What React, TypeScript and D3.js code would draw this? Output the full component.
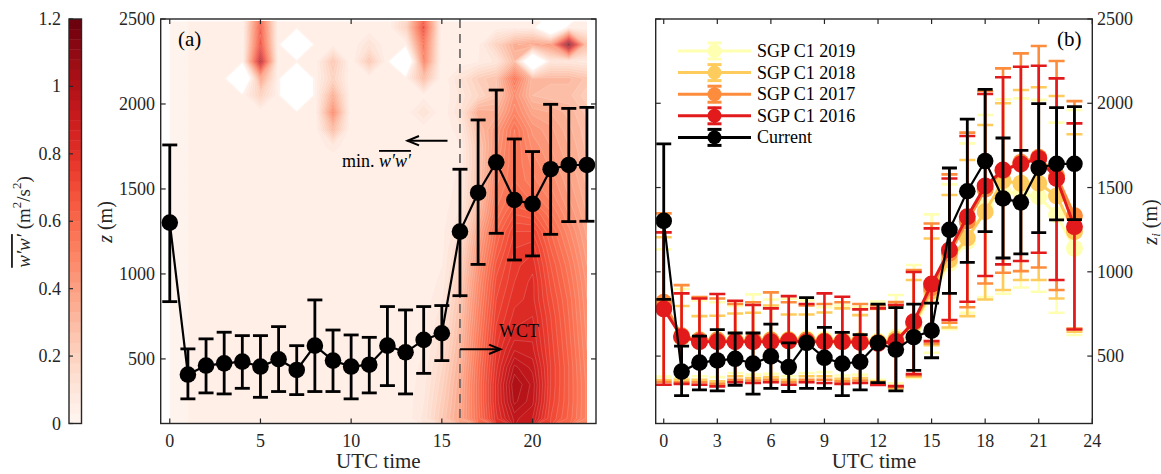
import React from 'react';
import * as d3 from 'd3';

// ---------------- DATA ----------------
const HOURS = [0,1,2,3,4,5,6,7,8,9,10,11,12,13,14,15,16,17,18,19,20,21,22,23];

// Current (black) mixing-layer height z_i and error bounds (m)
const CUR_MEAN = [1302,408,461,474,484,455,498,435,578,490,455,466,578,539,612,651,1249,1478,1657,1435,1412,1616,1641,1641];
const CUR_HI   = [1759,559,618,657,637,637,690,578,847,670,641,627,808,788,808,814,1616,1906,2082,1794,1720,1998,1974,1980];
const CUR_LO   = [837,265,300,294,327,274,308,290,308,308,265,300,343,294,415,490,872,1056,1239,1082,1106,1233,1308,1310];

// SGP C1 climatology per year
const SGP2016_MEAN = [780,615,585,585,585,585,585,590,585,585,585,580,575,585,704,927,1129,1327,1509,1604,1640,1673,1554,1268];
const SGP2016_HI   = [1234,872,842,868,828,803,783,856,809,872,852,777,783,803,999,1258,1554,1806,2055,2154,2217,2223,2148,1881];
const SGP2016_LO   = [330,335,330,320,345,340,345,330,345,340,335,340,328,322,393,589,714,822,975,1044,1064,1113,951,658];

const SGP2017_MEAN = [820,620,595,595,590,595,595,595,595,590,590,590,580,590,700,905,1110,1300,1490,1600,1650,1680,1570,1333];
const SGP2017_HI   = [1347,921,850,842,810,819,878,819,800,809,819,809,800,820,1010,1287,1578,1826,2073,2207,2296,2340,2251,2013];
const SGP2017_LO   = [346,345,345,335,360,355,360,345,360,360,350,355,340,315,385,575,698,790,931,994,1004,1026,892,664];

const SGP2018_MEAN = [800,610,590,590,590,590,590,590,595,590,585,585,580,600,690,885,1070,1200,1357,1540,1525,1525,1450,1238];
const SGP2018_HI   = [1205,797,737,739,753,757,800,747,747,759,783,743,780,790,951,1198,1456,1663,1871,2000,2079,2095,2043,1816];
const SGP2018_LO   = [358,360,360,350,380,370,375,360,380,380,365,370,350,308,377,565,670,737,836,892,951,951,842,644];

const SGP2019_MEAN = [790,615,600,600,600,600,600,600,605,600,595,595,590,615,675,860,1050,1180,1386,1475,1465,1446,1337,1139];
const SGP2019_HI   = [1133,898,830,819,797,866,836,840,830,790,800,790,823,862,1040,1341,1519,1762,1930,2023,2029,2020,1885,1960];
const SGP2019_LO   = [378,370,380,375,400,390,395,380,400,405,385,390,360,338,370,520,660,757,850,870,907,882,757,625];

const LEGEND_LABELS = ['SGP C1 2019','SGP C1 2018','SGP C1 2017','SGP C1 2016','Current'];
const SERIES_COLORS = ['#ffffb2','#fecc5c','#fd8d3c','#e31a1c','#000000'];

// w'w' field (m^2/s^2): rows = heights (ascending), cols = hours 0..23; null = missing
const GRID_HEIGHTS = [150,250,350,450,550,650,750,850,950,1050,1150,1250,1350,1450,1550,1650,1750,1850,1950,2050,2150,2250,2350,2450,2550];
const WW_GRID: (number | null)[][] = [
  [.02,.03,.03,.035,.03,.035,.03,.03,.035,.03,.03,.035,.03,.04,.10,.24,.38,.58,.80,.94,.90,.72,.62,.50],
  [.02,.03,.03,.035,.03,.035,.03,.03,.035,.03,.03,.035,.03,.04,.09,.22,.37,.59,.82,1.0,.94,.74,.63,.50],
  [.02,.03,.03,.035,.03,.035,.03,.03,.035,.03,.03,.035,.03,.04,.08,.20,.36,.59,.82,1.02,.95,.75,.63,.50],
  [.02,.03,.03,.035,.03,.035,.03,.03,.035,.03,.03,.035,.03,.04,.07,.18,.34,.58,.80,.97,.92,.75,.63,.49],
  [.02,.03,.03,.035,.03,.035,.03,.03,.035,.03,.03,.035,.03,.04,.06,.15,.32,.56,.78,.90,.88,.74,.62,.48],
  [.02,.03,.03,.035,.03,.035,.03,.03,.035,.03,.03,.035,.03,.04,.05,.13,.30,.54,.76,.85,.86,.73,.61,.47],
  [.02,.03,.03,.035,.03,.035,.03,.03,.035,.03,.03,.035,.03,.04,.05,.11,.28,.52,.74,.82,.84,.72,.60,.46],
  [.02,.03,.03,.035,.03,.035,.03,.03,.035,.03,.03,.035,.03,.04,.04,.09,.26,.50,.72,.80,.82,.70,.59,.45],
  [.02,.03,.03,.035,.03,.035,.03,.03,.035,.03,.03,.035,.03,.04,.04,.07,.23,.48,.70,.78,.82,.68,.57,.44],
  [.02,.03,.03,.035,.03,.035,.03,.03,.035,.03,.03,.035,.03,.04,.04,.06,.20,.45,.67,.77,.80,.66,.55,.42],
  [.02,.03,.03,.035,.03,.035,.03,.03,.035,.03,.03,.035,.03,.04,.035,.05,.17,.42,.63,.75,.77,.63,.52,.40],
  [.02,.03,.03,.035,.03,.035,.03,.03,.035,.03,.03,.035,.03,.04,.035,.05,.13,.38,.60,.72,.72,.60,.49,.38],
  [.02,.03,.03,.035,.03,.035,.03,.03,.035,.03,.03,.035,.03,.04,.03,.045,.10,.32,.55,.66,.64,.55,.45,.36],
  [.02,.03,.03,.035,.03,.035,.03,.03,.035,.03,.03,.035,.03,.04,.03,.04,.08,.28,.52,.60,.56,.50,.42,.34],
  [.02,.03,.03,.035,.03,.035,.03,.03,.035,.03,.03,.035,.03,.04,.03,.04,.07,.26,.50,.57,.52,.47,.40,.32],
  [.02,.03,.03,.035,.03,.035,.03,.03,.035,.03,.03,.035,.03,.04,.03,.04,.06,.25,.47,.57,.50,.44,.38,.30],
  [.02,.03,.03,.035,.03,.035,.03,.03,.035,.08,.03,.035,.03,.04,.03,.04,.06,.25,.44,.58,.47,.42,.36,.29],
  [.02,.03,.03,.035,.03,.035,.03,.03,.035,.30,.03,.035,.03,.04,.04,.035,.08,.29,.42,.57,.44,.40,.34,.28],
  [.02,.03,.03,.035,.03,.035,.03,.03,.035,.50,.03,.035,.03,.04,.12,.035,.12,.36,.34,.50,.38,.36,.32,.26],
  [.02,.03,.03,.035,.03,.20,.03,null,.035,.35,.03,.035,.03,.04,.05,.03,.10,.18,.26,.46,.30,.28,.28,.22],
  [.02,.03,.03,.035,null,.40,.03,null,.035,.20,.03,.035,.03,.04,.30,.03,.12,.22,.27,.56,.31,.31,.31,.26],
  [.02,.03,.03,.035,.03,1.0,.03,.03,.035,.25,.03,.25,.03,null,.55,.03,.04,.06,.10,.30,null,.10,.10,.08],
  [.02,.03,.03,.035,.03,.75,.03,null,.035,.05,.03,.12,.03,.04,.60,.03,.03,.05,.20,.35,.40,.45,1.2,.30],
  [.02,.03,.03,.035,.03,.70,.03,.03,.035,.03,.03,.035,.03,.20,.75,.03,.03,.04,.05,.06,.06,null,.06,.04],
  [.02,.03,.10,.035,.03,.60,.03,.03,.035,.03,.03,.035,.03,.15,.60,.03,.03,.03,.03,.04,.04,.04,null,.03],
];

const A_XTICKS = [0,5,10,15,20];
const B_XTICKS = [0,3,6,9,12,15,18,21,24];
const Y_TICKS = [500,1000,1500,2000,2500];
const C_TICKS = [0,0.2,0.4,0.6,0.8,1,1.2];

// ---------------- LAYOUT ----------------
const W = 1161, H = 474;
const FONT = "'Liberation Serif', 'Times New Roman', serif";
const INK = '#262626';
const PA = { l: 160.7, r: 596, t: 19, b: 423.5 };
const PB = { l: 655.7, r: 1092.3, t: 19, b: 423.5 };
const CB = { l: 69, r: 81.5, t: 19, b: 423.5 };

export default function App() {
  const xA = d3.scaleLinear().domain([-0.5, 23.5]).range([PA.l, PA.r]);
  const yA = d3.scaleLinear().domain([120, 2500]).range([PA.b, PA.t]);
  const xB = d3.scaleLinear().domain([-0.45, 24]).range([PB.l, PB.r]);
  const yB = d3.scaleLinear().domain([100, 2500]).range([PB.b, PB.t]);
  const yC = d3.scaleLinear().domain([0, 1.2]).range([CB.b, CB.t]);

  const step = 0.03;
  const nLev = 40;
  const color = (v: number) => d3.interpolateReds(Math.min(1, v / 1.2));

  // contours
  const n = HOURS.length, m = GRID_HEIGHTS.length;
  const dh = GRID_HEIGHTS[1] - GRID_HEIGHTS[0];
  const vals: number[] = new Array(n * m);
  for (let j = 0; j < m; j++) for (let i = 0; i < n; i++) {
    const v = WW_GRID[j][i];
    vals[j * n + i] = v == null ? -0.3 : v;
  }
  const thresholds = d3.range(0, nLev).map(k => k * step);
  const cont = d3.contours().size([n, m]).thresholds(thresholds)(vals);
  const proj = d3.geoTransform({
    point(x: number, y: number) {
      (this as any).stream.point(xA(HOURS[0] + x - 0.5), yA(GRID_HEIGHTS[0] + (y - 0.5) * dh));
    },
  });
  const gp = d3.geoPath(proj as any);

  const series = [
    { mean: SGP2019_MEAN, hi: SGP2019_HI, lo: SGP2019_LO, c: SERIES_COLORS[0] },
    { mean: SGP2018_MEAN, hi: SGP2018_HI, lo: SGP2018_LO, c: SERIES_COLORS[1] },
    { mean: SGP2017_MEAN, hi: SGP2017_HI, lo: SGP2017_LO, c: SERIES_COLORS[2] },
    { mean: SGP2016_MEAN, hi: SGP2016_HI, lo: SGP2016_LO, c: SERIES_COLORS[3] },
  ];

  const errSeries = (x: any, y: any, mean: number[], hi: number[], lo: number[], c: string, key: string,
                     lw: number, capW: number, r: number, lineW: number) => {
    const line = d3.line<number>().x((_, i) => x(HOURS[i])).y(d => y(d));
    return (
      <g key={key}>
        {HOURS.map((h, i) => (
          <g key={i} stroke={c} strokeWidth={lw}>
            <line x1={x(h)} x2={x(h)} y1={y(lo[i])} y2={y(hi[i])} />
            <line x1={x(h) - capW} x2={x(h) + capW} y1={y(lo[i])} y2={y(lo[i])} />
            <line x1={x(h) - capW} x2={x(h) + capW} y1={y(hi[i])} y2={y(hi[i])} />
          </g>
        ))}
        <path d={line(mean) || ''} fill="none" stroke={c} strokeWidth={lineW} />
        {HOURS.map((h, i) => (
          <circle key={'c' + i} cx={x(h)} cy={y(mean[i])} r={r} fill={c} />
        ))}
      </g>
    );
  };

  const frame = (p: any) => (
    <rect x={p.l} y={p.t} width={p.r - p.l} height={p.b - p.t} fill="none" stroke={INK} strokeWidth={1.4} />
  );

  const tickLen = 5;

  return (
    <svg width={W} height={H} style={{ position: 'absolute', left: 0, top: 0, background: '#fff' }}
         fontFamily={FONT} fill={INK}>
      <defs>
        <clipPath id="heatclip">
          <rect x={xA(0)} y={yA(2485)} width={xA(23) - xA(0)} height={yA(120) - yA(2485)} />
        </clipPath>
        <clipPath id="bclip">
          <rect x={PB.l} y={PB.t} width={PB.r - PB.l} height={PB.b - PB.t} />
        </clipPath>
      </defs>

      {/* ---------- colorbar ---------- */}
      {d3.range(nLev).map(k => (
        <rect key={k} x={CB.l} y={yC((k + 1) * step)} width={CB.r - CB.l}
              height={yC(k * step) - yC((k + 1) * step) + 0.4} fill={color((k + 0.5) * step)} />
      ))}
      <rect x={CB.l} y={CB.t} width={CB.r - CB.l} height={CB.b - CB.t} fill="none" stroke={INK} strokeWidth={1.4} />
      {C_TICKS.map(t => (
        <g key={t}>
          <line x1={CB.l} x2={CB.l + 4} y1={yC(t)} y2={yC(t)} stroke={INK} strokeWidth={1.2} />
          <text x={61} y={yC(t)} textAnchor="end" dominantBaseline="central" fontSize={18}>{t}</text>
        </g>
      ))}
      <text transform={`translate(23,222) rotate(-90)`} textAnchor="middle" dominantBaseline="central" fontSize={19}>
        <tspan fontStyle="italic" style={{ textDecoration: 'overline' }}>w′w′</tspan>
        <tspan> (m</tspan><tspan dy={-7} fontSize={13}>2</tspan><tspan dy={7}>/s</tspan>
        <tspan dy={-7} fontSize={13}>2</tspan><tspan dy={7}>)</tspan>
      </text>

      {/* ---------- panel (a) ---------- */}
      <g clipPath="url(#heatclip)">
        {cont.map((c, k) => (
          <path key={k} d={gp(c as any) || ''} fill={color(c.value + step / 2)}
                stroke="rgba(255,255,255,0.28)" strokeWidth={0.6} />
        ))}
      </g>
      <line x1={xA(16)} x2={xA(16)} y1={PA.t} y2={PA.b} stroke="#555" strokeWidth={1.5} strokeDasharray="9,6" />
      {errSeries(xA, yA, CUR_MEAN, CUR_HI, CUR_LO, '#000', 'curA', 2.8, 7.5, 8.3, 2.2)}
      {frame(PA)}
      {A_XTICKS.map(t => (
        <g key={t}>
          <line x1={xA(t)} x2={xA(t)} y1={PA.b} y2={PA.b - tickLen} stroke={INK} strokeWidth={1.2} />
          <line x1={xA(t)} x2={xA(t)} y1={PA.t} y2={PA.t + tickLen} stroke={INK} strokeWidth={1.2} />
          <text x={xA(t)} y={447} textAnchor="middle" fontSize={18}>{t}</text>
        </g>
      ))}
      {Y_TICKS.map(t => (
        <g key={t}>
          <line x1={PA.l} x2={PA.l + tickLen} y1={yA(t)} y2={yA(t)} stroke={INK} strokeWidth={1.2} />
          <line x1={PA.r} x2={PA.r - tickLen} y1={yA(t)} y2={yA(t)} stroke={INK} strokeWidth={1.2} />
          <text x={155} y={yA(t)} textAnchor="end" dominantBaseline="central" fontSize={18}>{t}</text>
        </g>
      ))}
      <text x={(PA.l + PA.r) / 2} y={468} textAnchor="middle" fontSize={21}>UTC time</text>
      <text transform={`translate(105,222) rotate(-90)`} textAnchor="middle" dominantBaseline="central" fontSize={20}>
        <tspan fontStyle="italic">z</tspan><tspan> (m)</tspan>
      </text>
      <text x={178} y={46} fontSize={21} fill="#000">(a)</text>

      {/* annotations */}
      <g stroke="#000" strokeWidth={2} fill="none">
        <line x1={447.5} x2={407.5} y1={140.7} y2={140.7} />
        <path d="M 419 136 L 407.5 140.7 L 419 145.4" />
        <line x1={xA(16)} x2={500} y1={349.3} y2={349.3} />
        <path d="M 489 344.6 L 500.5 349.3 L 489 354" />
      </g>
      <text x={342} y={167} fontSize={18} fill="#000">
        <tspan>min. </tspan>
        <tspan fontStyle="italic" style={{ textDecoration: 'overline' }}>w′w′</tspan>
      </text>
      <text x={499} y={337} fontSize={18} fill="#000">WCT</text>

      {/* ---------- panel (b) ---------- */}
      <g clipPath="url(#bclip)">
        {series.map((s, k) => errSeries(xB, yB, s.mean, s.hi, s.lo, s.c, 'sgp' + k, 2.6, 8, 8.5, 3))}
        {errSeries(xB, yB, CUR_MEAN, CUR_HI, CUR_LO, '#000', 'curB', 2.8, 7.5, 8.3, 2.2)}
      </g>
      {frame(PB)}
      {B_XTICKS.map(t => (
        <g key={t}>
          <line x1={xB(t)} x2={xB(t)} y1={PB.b} y2={PB.b - tickLen} stroke={INK} strokeWidth={1.2} />
          <line x1={xB(t)} x2={xB(t)} y1={PB.t} y2={PB.t + tickLen} stroke={INK} strokeWidth={1.2} />
          <text x={xB(t)} y={447} textAnchor="middle" fontSize={18}>{t}</text>
        </g>
      ))}
      {Y_TICKS.map(t => (
        <g key={t}>
          <line x1={PB.l} x2={PB.l + tickLen} y1={yB(t)} y2={yB(t)} stroke={INK} strokeWidth={1.2} />
          <line x1={PB.r} x2={PB.r - tickLen} y1={yB(t)} y2={yB(t)} stroke={INK} strokeWidth={1.2} />
          <text x={1097} y={yB(t)} textAnchor="start" dominantBaseline="central" fontSize={18}>{t}</text>
        </g>
      ))}
      <text x={(PB.l + PB.r) / 2} y={468} textAnchor="middle" fontSize={21}>UTC time</text>
      <text transform={`translate(1150,222) rotate(-90)`} textAnchor="middle" dominantBaseline="central" fontSize={20}>
        <tspan fontStyle="italic">z</tspan><tspan fontStyle="italic" fontSize={13} dy={5}>i</tspan><tspan dy={-5}> (m)</tspan>
      </text>
      <text x={1057} y={46} fontSize={21} fill="#000">(b)</text>

      {/* legend */}
      {LEGEND_LABELS.map((lab, k) => {
        const y = 51 + k * 21.6;
        const c = SERIES_COLORS[k];
        return (
          <g key={lab}>
            <line x1={678} x2={751} y1={y} y2={y} stroke={c} strokeWidth={3} />
            <line x1={714.5} x2={714.5} y1={y - 9} y2={y + 9} stroke={c} strokeWidth={3} />
            <line x1={707.5} x2={721.5} y1={y - 8} y2={y - 8} stroke={c} strokeWidth={3} />
            <line x1={707.5} x2={721.5} y1={y + 8} y2={y + 8} stroke={c} strokeWidth={3} />
            <circle cx={714.5} cy={y} r={7} fill={c} />
            <text x={757} y={y} dominantBaseline="central" fontSize={18} fill="#000">{lab}</text>
          </g>
        );
      })}
    </svg>
  );
}
